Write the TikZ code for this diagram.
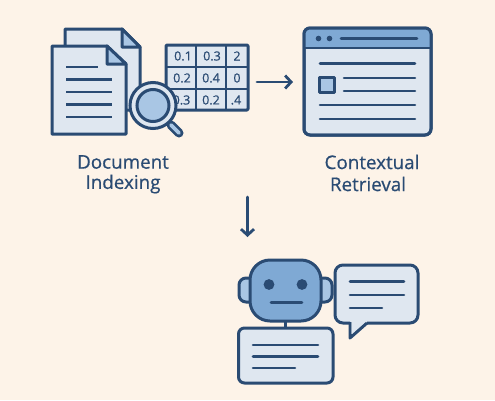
\documentclass[tikz,border=0pt]{standalone}
\usepackage{fontspec}
\setmainfont{Open Sans}
\newfontfamily\capfont[FakeBold=0.6]{Open Sans}
\definecolor{bg}{HTML}{FDF3E8}
\definecolor{ink}{HTML}{2A4B73}
\definecolor{pale}{HTML}{DFE7F0}
\definecolor{mid}{HTML}{A9C6E4}
\definecolor{head}{HTML}{7FA9D4}
\usetikzlibrary{arrows.meta}
\tikzset{
  outline/.style={draw=ink,line width=3pt,line join=round,fill=pale},
  txtline/.style={draw=ink,line width=2.6pt,line cap=round},
  cellval/.style={text=ink,font=\capfont\fontsize{12.5}{12.5}\selectfont,inner sep=0pt},
  caption/.style={text=ink,font=\capfont\fontsize{18.8}{18.8}\selectfont,inner sep=0pt},
  flow/.style={draw=ink,line width=2.8pt,line cap=round,-{Straight Barb[length=6pt,width=13pt,line width=2.8pt]}}
}
\begin{document}
\begin{tikzpicture}[x=1pt,y=-1pt]
\useasboundingbox (0,0) rectangle (495,400);
\fill[bg] (0,0) rectangle (495,400);
% back page
\path[outline] (65,29) -- (122,29) -- (140,47) -- (140,110) -- (65,110) -- cycle;
\path[outline,fill=mid] (122,29) -- (140,47) -- (122,47) -- cycle;
% table
\path[outline,rounded corners=1pt] (166,45) rectangle (248,110);
\draw[ink,line width=2.8pt] (196,45) -- (196,110) (226,45) -- (226,110) (166,67) -- (248,67) (166,89) -- (248,89);
\node[cellval] (c11) at (183,56) {0.1};
\node[cellval] (c12) at (212,56) {0.3};
\node[cellval] (c13) at (237,56) {2};
\node[cellval] (c21) at (182,78) {0.2};
\node[cellval] (c22) at (211,78) {0.4};
\node[cellval] (c23) at (237,78) {0};
\node[cellval] (c31) at (181.5,100) {0.3};
\node[cellval] (c32) at (211,100) {0.2};
\node[cellval] (c33) at (236,100) {.4};
% front page
\path[outline] (52,46) -- (107,46) -- (126,64) -- (126,134) -- (52,134) -- cycle;
\path[outline,fill=mid] (107,46) -- (126,64) -- (107,64) -- cycle;
\draw[txtline,line cap=butt] (66,67) -- (98,67) (66,79.5) -- (112,79.5) (66,92) -- (112,92) (66,104.5) -- (112,104.5) (66,117) -- (112,117);
% magnifier
\draw[ink,line width=9pt,line cap=round] (171,125) -- (179,133);
\draw[mid,line width=3.6pt,line cap=round] (171,125) -- (179,133);
\filldraw[draw=ink,fill=pale,line width=3pt] (153,105.5) circle (23);
\filldraw[draw=ink,fill=mid,line width=3pt] (153,105.5) circle (16);
% browser
\path[outline,rounded corners=6pt] (304,28) rectangle (431,135);
\begin{scope}
\clip[rounded corners=6pt] (304,28) rectangle (431,135);
\fill[head] (304,28) rectangle (431,48);
\end{scope}
\draw[ink,line width=3pt,rounded corners=6pt] (304,28) rectangle (431,135);
\draw[ink,line width=2.8pt] (304,48) -- (431,48);
\fill[ink] (318.5,38.5) circle (2.8) (329.5,38.5) circle (2.8);
\draw[txtline] (341,38.5) -- (417,38.5);
\draw[txtline] (320,63.5) -- (415,63.5) (344,78) -- (415,78) (344,91) -- (415,91) (320,105) -- (415,105) (320,119) -- (415,119);
\path[outline,fill=mid] (319,77) rectangle (334,92);
% labels
\node[caption] (doc1) at (123,162) {Document};
\node[caption] (doc2) at (123,184) {Indexing};
\node[caption] (ctx1) at (372,162) {Contextual};
\node[caption] (ctx2) at (368,184) {Retrieval};
% arrows
\coordinate (a1) at (257,82); \coordinate (a2) at (293,82);
\coordinate (b1) at (247.5,197); \coordinate (b2) at (247.5,237);
\draw[flow] (a1) -- (a2);
\draw[flow] (b1) -- (b2);
% robot
\path[outline,fill=mid,rounded corners=7pt] (239,278) rectangle (258,302);
\path[outline,fill=mid,rounded corners=7pt] (314,278) rectangle (332,302);
\path[outline,fill=head,rounded corners=20pt] (250,260) rectangle (321,321);
\fill[ink] (269,284.5) circle (5.4) (302,284.5) circle (5.4);
\draw[txtline] (271,302.5) -- (302,302.5);
\draw[ink,line width=2.8pt] (285.5,321) -- (285.5,328);
\path[outline,rounded corners=6pt] (238.5,328) rectangle (333,383);
\draw[txtline] (253,345) -- (318,345) (253,356.5) -- (318,356.5) (253,368) -- (295,368);
% bubble
\path[outline,rounded corners=8pt] (350,323) -- (335,323) -- (335,265) -- (418,265) -- (418,323) -- (367,323);
\path[outline,draw=none] (351,320) rectangle (366,325);
\path[outline,fill=pale] (350,322) -- (350,338) -- (367,323);
\path[fill=pale] (351.5,321) -- (351.5,334) -- (365,322) -- cycle;
\draw[txtline] (350,281.5) -- (404,281.5) (350,295) -- (404,295) (350,308) -- (382,308);
\end{tikzpicture}
\end{document}
